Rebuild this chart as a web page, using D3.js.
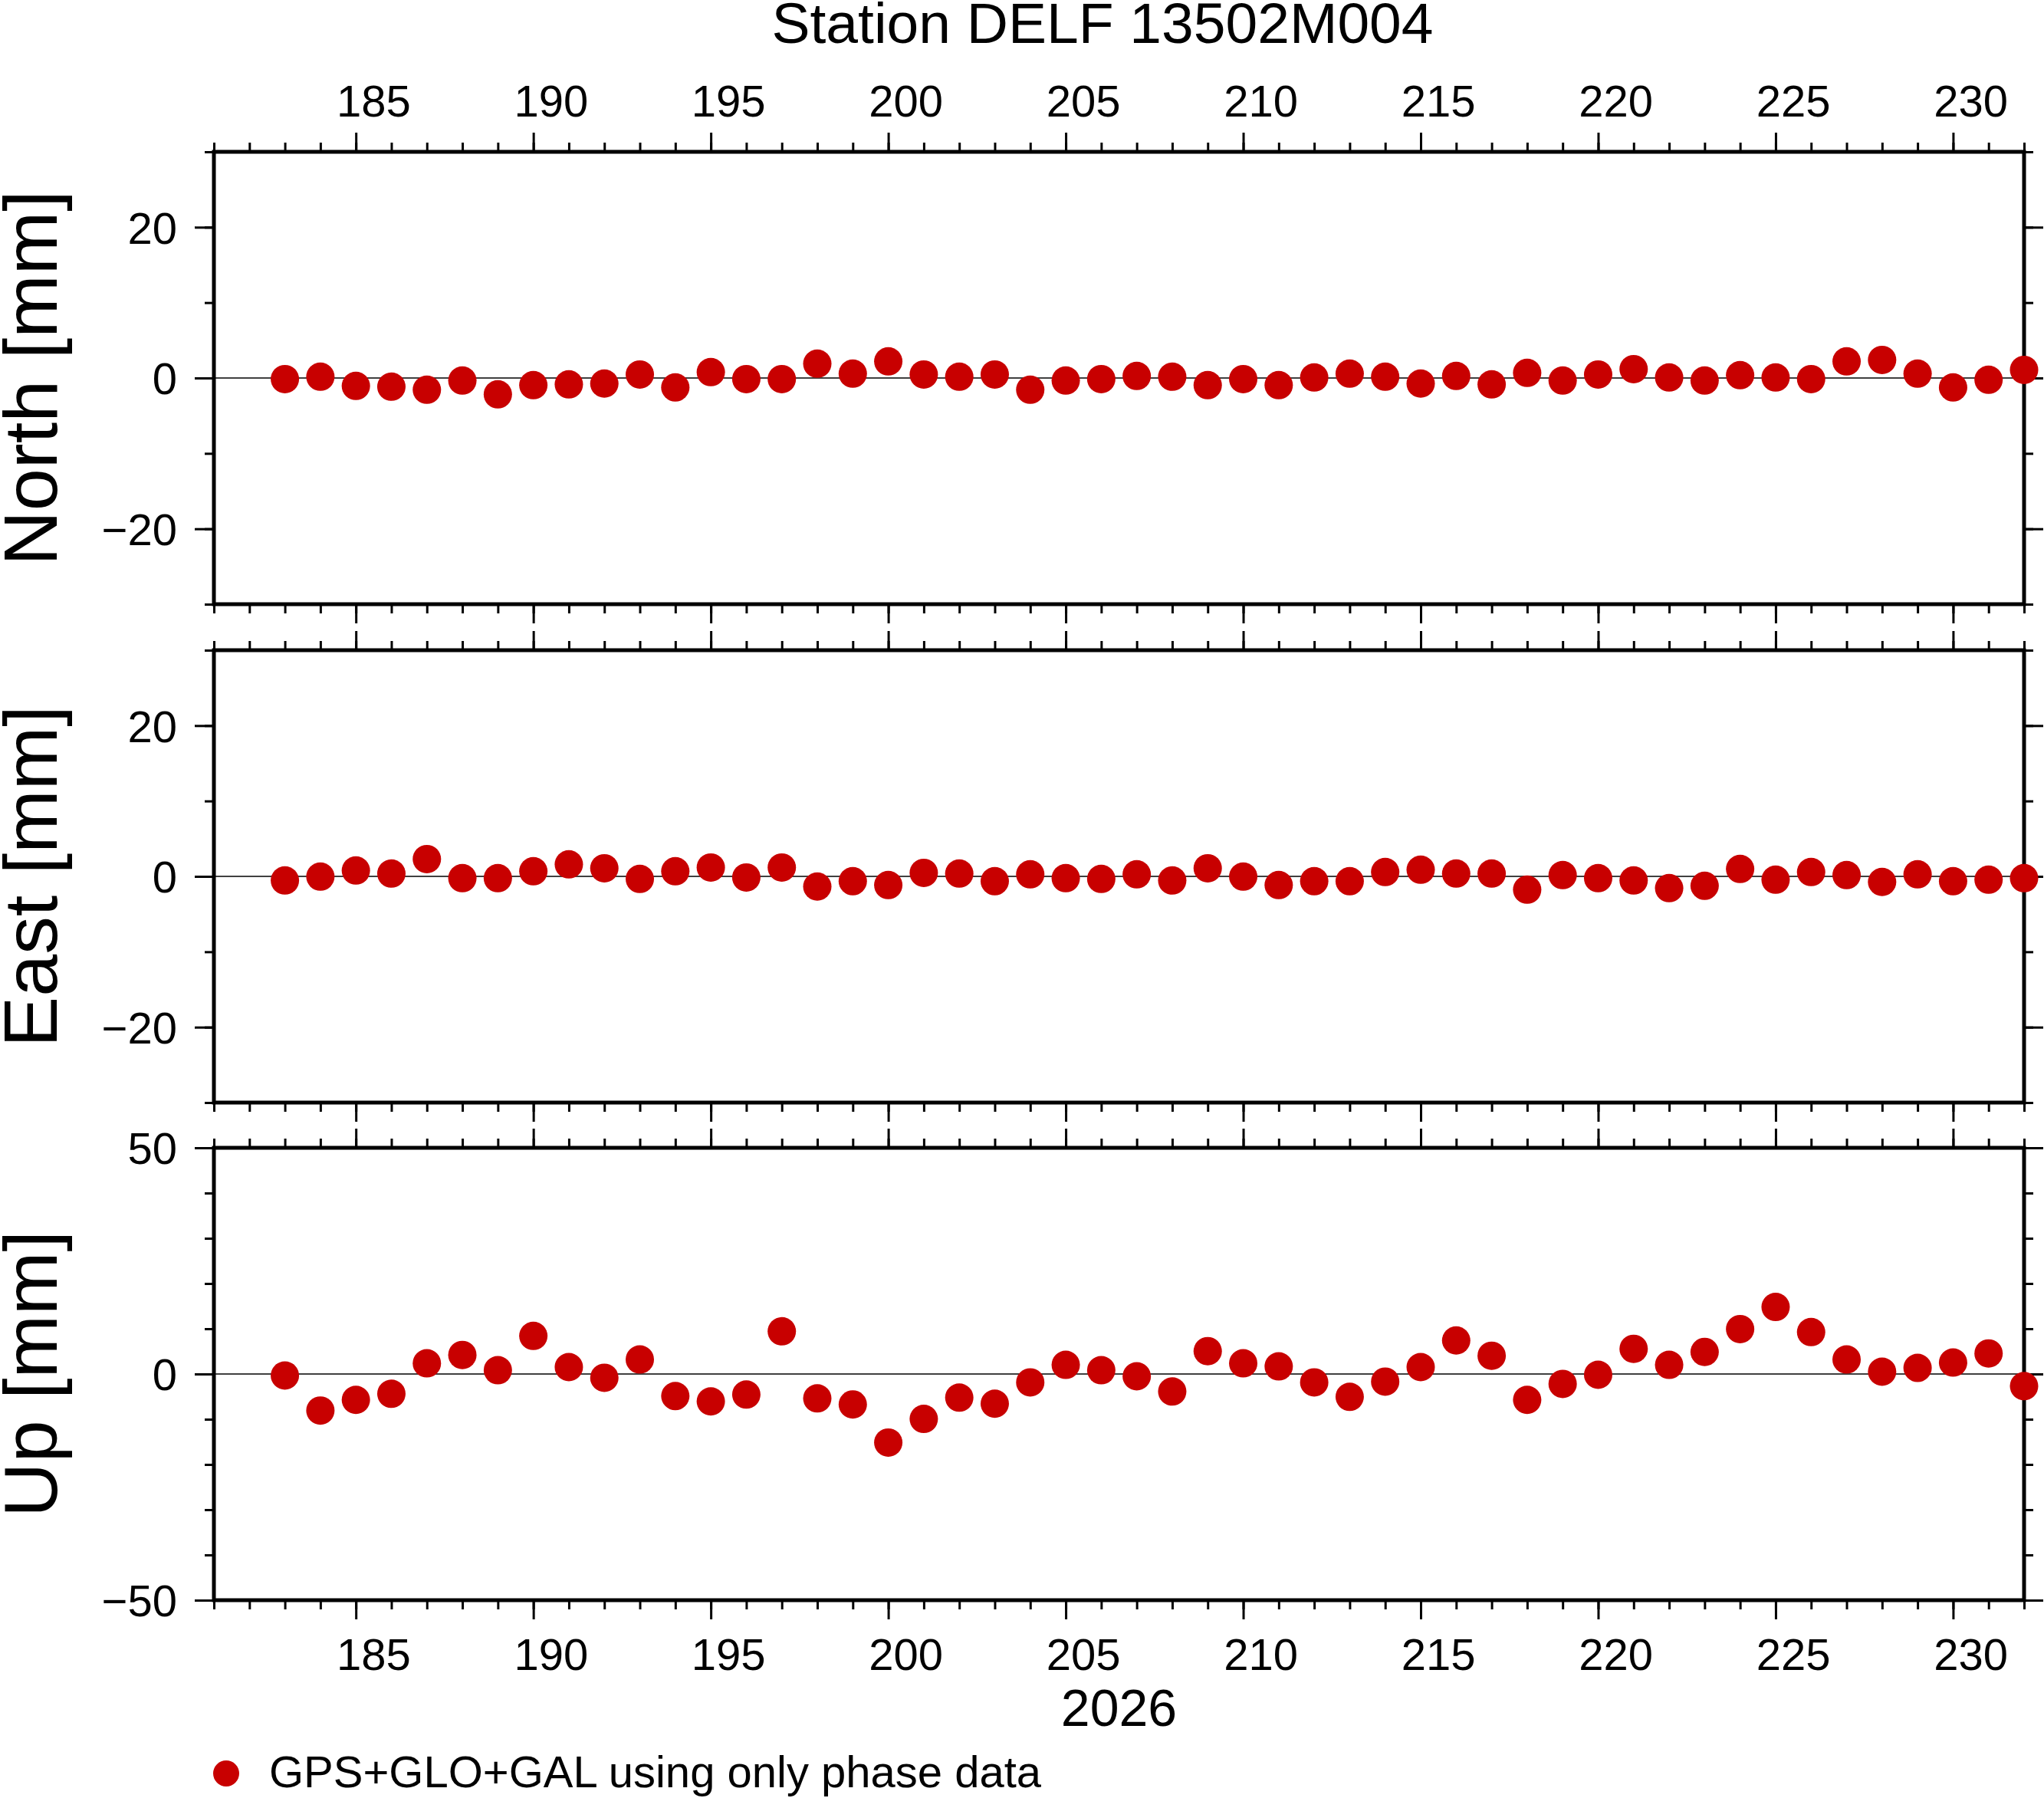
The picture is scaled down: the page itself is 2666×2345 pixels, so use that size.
<!DOCTYPE html>
<html>
<head>
<meta charset="utf-8">
<script src="https://cdn.jsdelivr.net/npm/d3@7"></script>
<style>
  body { margin: 0; background: #fff; }
  svg { display: block; }
  text { font-family: "Liberation Sans", Arial, Helvetica, sans-serif; fill: #000; }
</style>
</head>
<body>
<div id="chart"></div>
<script>
// day of year, 2026
const days = [183, 184, 185, 186, 187, 188, 189, 190, 191, 192, 193, 194, 195, 196, 197, 198, 199,
    200, 201, 202, 203, 204, 205, 206, 207, 208, 209, 210, 211, 212, 213, 214, 215, 216, 217,
    218, 219, 220, 221, 222, 223, 224, 225, 226, 227, 228, 229, 230, 231, 232];

// residuals in mm
const north = [-0.14, 0.17, -1.05, -1.15, -1.56, -0.34, -2.17, -0.95, -0.85, -0.74, 0.47, -1.25,
    0.78, -0.14, -0.14, 1.9, 0.58, 2.2, 0.47, 0.17, 0.47, -1.56, -0.34, -0.14,
    0.27, 0.17, -0.95, -0.14, -0.95, 0.07, 0.58, 0.17, -0.74, 0.27, -0.85, 0.68, -0.34,
    0.47, 1.18, 0.07, -0.34, 0.37, 0.07, -0.14, 2.2, 2.4, 0.58, -1.25, -0.24, 1.08];
const east = [-0.54, -0.03, 0.78, 0.37, 2.3, -0.24, -0.24, 0.68, 1.59, 1.08, -0.34, 0.68,
    1.18, -0.14, 1.18, -1.35, -0.64, -1.15, 0.47, 0.37, -0.64, 0.27, -0.24, -0.34,
    0.27, -0.54, 1.08, -0.03, -1.15, -0.64, -0.64, 0.58, 0.88, 0.37, 0.37, -1.76, 0.17,
    -0.24, -0.54, -1.56, -1.25, 0.98, -0.44, 0.58, 0.17, -0.74, 0.27, -0.64, -0.44, -0.24];
const up = [-0.34, -8.08, -5.72, -4.38, 2.36, 4.21, 0.84, 8.42, 1.52, -0.84, 3.2, -4.88,
    -6.06, -4.55, 9.43, -5.39, -6.73, -15.15, -9.93, -5.22, -6.57, -1.85, 2.02, 0.84,
    -0.51, -3.87, 5.05, 2.36, 1.68, -1.85, -5.05, -1.68, 1.52, 7.41, 4.04, -5.72, -2.19,
    -0.17, 5.56, 2.02, 4.88, 9.93, 14.81, 9.26, 3.2, 0.51, 1.35, 2.53, 4.55, -2.69];

const panelNames = ['North', 'East', 'Up'];
const yDomains = [[-30, 30], [-30, 30], [-50, 50]];
const yMajorTicks = [[-20, 0, 20], [-20, 0, 20], [-50, 0, 50]];
const yMinorTicks = [
    [-30, -20, -10, 0, 10, 20, 30],
    [-30, -20, -10, 0, 10, 20, 30],
    [-50, -40, -30, -20, -10, 0, 10, 20, 30, 40, 50]
];
const xDomain = [181, 232];
const xLabelDays = [185, 190, 195, 200, 205, 210, 215, 220, 225, 230];

const title = 'Station DELF 13502M004';
const yearLabel = '2026';
const legendLabel = 'GPS+GLO+GAL using only phase data';

const width = 2666,
    height = 2345,
    left = 279,
    right = 2640,
    panelTops = [198, 848, 1497],
    panelHeight = 590,
    dotColor = '#c80000',
    majorLen = 25,
    minorLen = 12;

const series = [north, east, up];
const fmt = d => d < 0 ? '\u2212' + Math.abs(d) : String(d);

const svg = d3.select('#chart')
    .append('svg')
    .attr('width', width)
    .attr('height', height)
    .attr('viewBox', [0, 0, width, height]);

svg.append('rect')
    .attr('width', width)
    .attr('height', height)
    .attr('fill', '#fff');

const x = d3.scaleLinear().domain(xDomain).range([left, right]);
const xMinor = x.ticks(xDomain[1] - xDomain[0]);

// style a d3 axis group the GMT way
function styleAxis(g) {
    g.select('.domain').remove();
    g.selectAll('.tick line').attr('stroke', '#000').attr('stroke-width', 3);
    g.attr('font-family', null).attr('font-size', null);
}

panelNames.forEach((name, i) => {
    const top = panelTops[i],
        bottom = top + panelHeight;
    const y = d3.scaleLinear().domain(yDomains[i]).range([bottom, top]);
    const g = svg.append('g');

    // zero line
    g.append('line')
        .attr('x1', left).attr('x2', right)
        .attr('y1', y(0)).attr('y2', y(0))
        .attr('stroke', '#000')
        .attr('stroke-width', 1.5);

    // y ticks, left and right
    g.append('g')
        .attr('transform', `translate(${left},0)`)
        .call(d3.axisLeft(y).tickValues(yMinorTicks[i]).tickSize(minorLen).tickFormat(''))
        .call(styleAxis);
    g.append('g')
        .attr('transform', `translate(${left},0)`)
        .call(d3.axisLeft(y).tickValues(yMajorTicks[i]).tickSize(majorLen).tickPadding(23).tickFormat(fmt))
        .call(styleAxis)
        .call(a => a.selectAll('text').attr('font-size', 58).attr('dy', '0.36em'));
    g.append('g')
        .attr('transform', `translate(${right},0)`)
        .call(d3.axisRight(y).tickValues(yMinorTicks[i]).tickSize(minorLen).tickFormat(''))
        .call(styleAxis);
    g.append('g')
        .attr('transform', `translate(${right},0)`)
        .call(d3.axisRight(y).tickValues(yMajorTicks[i]).tickSize(majorLen).tickFormat(''))
        .call(styleAxis);

    // x ticks, top and bottom
    [[d3.axisTop, top], [d3.axisBottom, bottom]].forEach(([axis, ty]) => {
        g.append('g')
            .attr('transform', `translate(0,${ty})`)
            .call(axis(x).tickValues(xMinor).tickSize(minorLen).tickFormat(''))
            .call(styleAxis);
        g.append('g')
            .attr('transform', `translate(0,${ty})`)
            .call(axis(x).tickValues(xLabelDays).tickSize(majorLen).tickFormat(''))
            .call(styleAxis);
    });

    // frame
    g.append('rect')
        .attr('x', left).attr('y', top)
        .attr('width', right - left).attr('height', panelHeight)
        .attr('fill', 'none')
        .attr('stroke', '#000')
        .attr('stroke-width', 5);

    // axis title
    g.append('text')
        .attr('transform', `translate(74,${(top + bottom) / 2}) rotate(-90)`)
        .attr('text-anchor', 'middle')
        .attr('font-size', 99)
        .text(`${name} [mm]`);

    // points
    g.append('g')
        .selectAll('circle')
        .data(days)
        .join('circle')
        .attr('cx', d => x(d))
        .attr('cy', (d, j) => y(series[i][j]))
        .attr('r', 18.5)
        .attr('fill', dotColor);
});

// day labels sit in the middle of each day interval
const labelRows = [152, 2178];
labelRows.forEach(ly => {
    svg.append('g')
        .selectAll('text')
        .data(xLabelDays)
        .join('text')
        .attr('x', d => x(d + 0.5))
        .attr('y', ly)
        .attr('text-anchor', 'middle')
        .attr('font-size', 58)
        .text(d => d);
});

svg.append('text')
    .attr('x', (left + right) / 2)
    .attr('y', 2251)
    .attr('text-anchor', 'middle')
    .attr('font-size', 68)
    .text(yearLabel);

svg.append('text')
    .attr('x', 1438)
    .attr('y', 56)
    .attr('text-anchor', 'middle')
    .attr('font-size', 75)
    .text(title);

// legend
svg.append('circle')
    .attr('cx', 295)
    .attr('cy', 2313)
    .attr('r', 17)
    .attr('fill', dotColor);
svg.append('text')
    .attr('x', 351)
    .attr('y', 2331)
    .attr('font-size', 58)
    .text(legendLabel);
</script>
</body>
</html>
